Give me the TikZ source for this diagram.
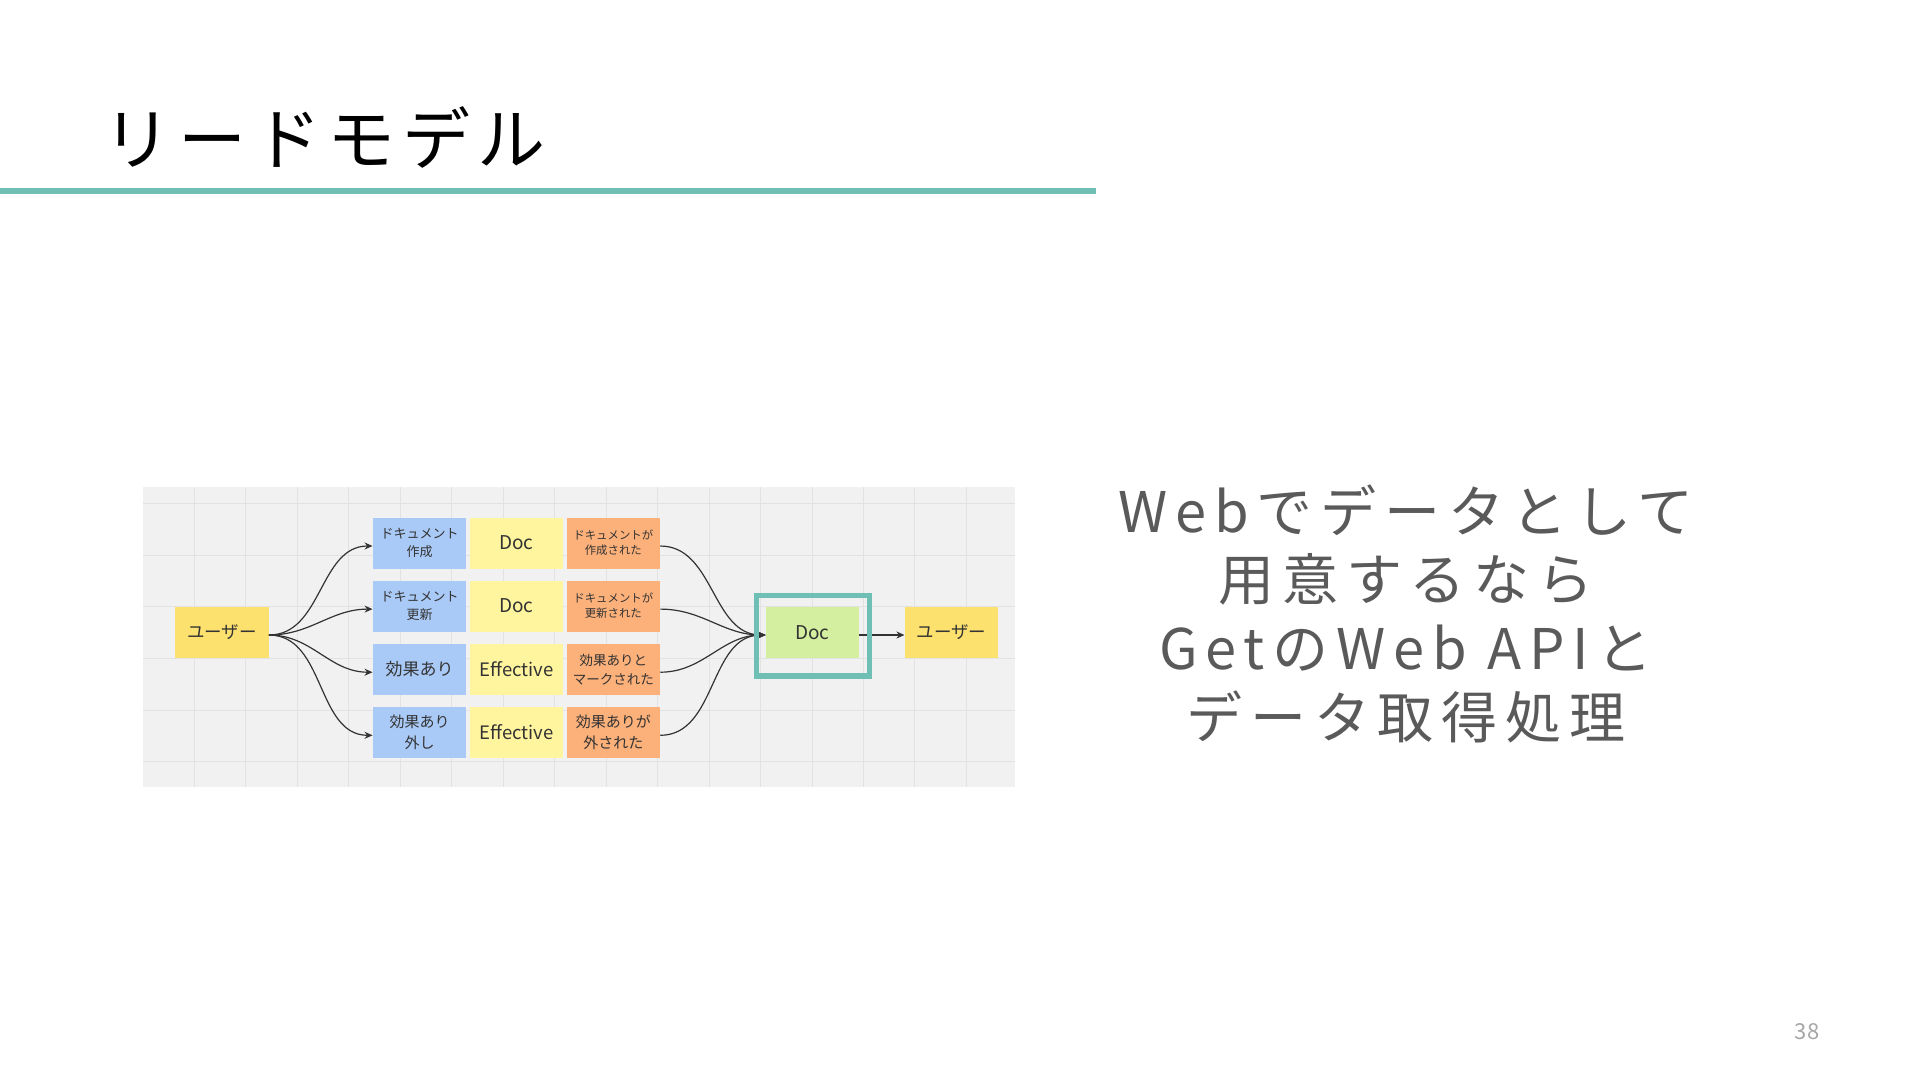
\documentclass[tikz,border=0pt]{standalone}
\usepackage{fontspec}
\setmainfont{Noto Sans CJK JP}
\newfontfamily\titlefont[LetterSpace=10]{Noto Sans CJK JP}
\newfontfamily\leadfont[LetterSpace=14]{Noto Sans CJK JP}
\usepackage{xcolor}
\definecolor{slideteal}{HTML}{6FBFB5}
\definecolor{boardgray}{HTML}{F1F1F1}
\definecolor{gridgray}{HTML}{E2E2E2}
\definecolor{notetext}{HTML}{333333}
\definecolor{leadgray}{HTML}{5A5A5A}
\definecolor{pagegray}{HTML}{A6A6A6}
\definecolor{useryellow}{HTML}{FDE16E}
\definecolor{noteblue}{HTML}{A9C9F6}
\definecolor{noteyellow}{HTML}{FFF59F}
\definecolor{noteorange}{HTML}{FCB07A}
\definecolor{notegreen}{HTML}{D4EFA0}
\usetikzlibrary{positioning, arrows.meta, calc}

\begin{document}
\begin{tikzpicture}[x=1pt, y=-1pt, node distance=11.7pt and 3pt, >={Stealth[length=8pt, width=7pt]},
    note/.style={rectangle, minimum width=93.5pt, minimum height=51pt, inner sep=0pt, align=center, text=notetext},
    flow/.style={->, line width=1.2pt, draw=notetext}]
    \fill [white] (0,0) rectangle (1920,1080);
    \useasboundingbox (0,0) rectangle (1920,1080);

    \node [anchor=base west, font=\titlefont\fontsize{68}{68}\selectfont] (title) at (100,164) {リードモデル};
    \draw [slideteal, line width=6pt] (0,191) -- (1096,191);

    \fill [boardgray] (143,487) rectangle (1015,787);
    \foreach \gx in {0,...,15}
        \draw [gridgray, line width=0.8pt] (194.4+51.46*\gx,487) -- (194.4+51.46*\gx,787);
    \foreach \gy in {0,...,5}
        \draw [gridgray, line width=0.8pt] (143,503.5+51.6*\gy) -- (1015,503.5+51.6*\gy);

    \node [note, fill=useryellow, font=\fontsize{17.5}{20}\selectfont] (src) at (222,632.5) {ユーザー};

    \node [note, fill=noteblue, font=\fontsize{13}{18}\selectfont] (mkop) at (419.5,543) {ドキュメント\\作成};
    \node [note, fill=noteblue, font=\fontsize{13}{18}\selectfont, below=of mkop] (upop) {ドキュメント\\更新};
    \node [note, fill=noteblue, font=\fontsize{17}{20}\selectfont, below=of upop] (markop) {効果あり};
    \node [note, fill=noteblue, font=\fontsize{15}{20.5}\selectfont, below=of markop] (unmarkop) {効果あり\\外し};

    \node [note, fill=noteyellow, font=\fontsize{19}{22}\selectfont, right=of mkop] (mkdoc) {Doc};
    \node [note, fill=noteyellow, font=\fontsize{19}{22}\selectfont, right=of upop] (updoc) {Doc};
    \node [note, fill=noteyellow, font=\fontsize{18.5}{22}\selectfont, right=of markop] (markdoc) {Effective};
    \node [note, fill=noteyellow, font=\fontsize{18.5}{22}\selectfont, right=of unmarkop] (unmarkdoc) {Effective};

    \node [note, fill=noteorange, font=\fontsize{11.4}{15}\selectfont, right=of mkdoc] (mkev) {ドキュメントが\\作成された};
    \node [note, fill=noteorange, font=\fontsize{11.4}{15}\selectfont, right=of updoc] (upev) {ドキュメントが\\更新された};
    \node [note, fill=noteorange, font=\fontsize{13.5}{19}\selectfont, right=of markdoc] (markev) {効果ありと\\マークされた};
    \node [note, fill=noteorange, font=\fontsize{15}{20.5}\selectfont, right=of unmarkdoc] (unmarkev) {効果ありが\\外された};

    \node [note, fill=notegreen, font=\fontsize{19}{22}\selectfont] (doc) at (812.5,632.5) {Doc};
    \node [note, fill=useryellow, font=\fontsize{17.5}{20}\selectfont, right=45pt of doc] (dst) {ユーザー};

    \draw [flow] ([yshift=-2.5pt]src.east) to [out=0, in=180] ([yshift=-3pt]mkop.west);
    \draw [flow] ([yshift=-2.5pt]src.east) to [out=0, in=180] ([yshift=-3pt]upop.west);
    \draw [flow] ([yshift=-2.5pt]src.east) to [out=0, in=180] ([yshift=-3pt]markop.west);
    \draw [flow] ([yshift=-2.5pt]src.east) to [out=0, in=180] ([yshift=-3pt]unmarkop.west);

    \draw [flow] ([yshift=-3pt]mkev.east) to [out=0, in=180] ([yshift=-2.5pt]doc.west);
    \draw [flow] ([yshift=-3pt]upev.east) to [out=0, in=180] ([yshift=-2.5pt]doc.west);
    \draw [flow] ([yshift=-3pt]markev.east) to [out=0, in=180] ([yshift=-2.5pt]doc.west);
    \draw [flow] ([yshift=-3pt]unmarkev.east) to [out=0, in=180] ([yshift=-2.5pt]doc.west);
    \draw [flow] ([yshift=-2.5pt]doc.east) -- ([yshift=-2.5pt]dst.west);

    \node [draw=slideteal, line width=5.3pt, minimum width=112.6pt, minimum height=80.7pt] (docframe) at (813,635.6) {};

    \node [font=\leadfont\fontsize{56}{68.7}\selectfont, text=leadgray, align=center] (lead) at (1406,613.5) {Webでデータとして\\用意するなら\\GetのWeb APIと\\データ取得処理};

    \node [font=\fontsize{22}{22}\selectfont, text=pagegray] (pageno) at (1807,1032) {38};
\end{tikzpicture}
\end{document}
